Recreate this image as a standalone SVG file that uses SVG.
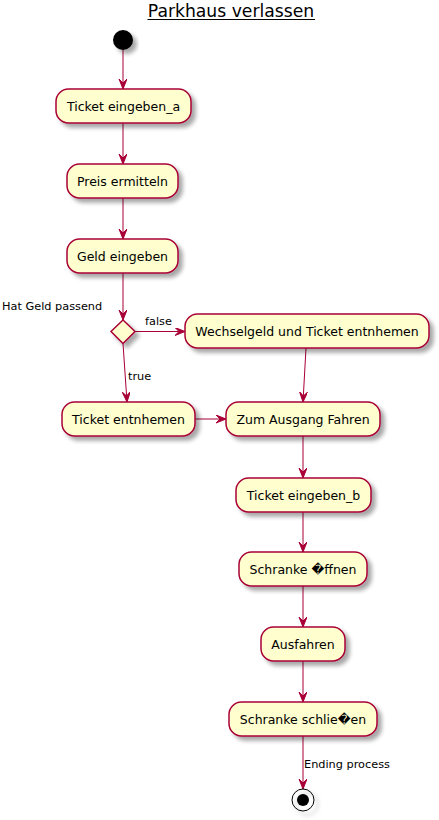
<svg xmlns="http://www.w3.org/2000/svg" width="439" height="820" viewBox="0 0 439 820">
<style>
.act{fill:#FEFECE;stroke:#A80036;stroke-width:1.5;filter:url(#sh)}
.t{font-family:"DejaVu Sans",sans-serif;font-size:12.5px;fill:#000;text-anchor:middle}
.l{font-family:"DejaVu Sans",sans-serif;font-size:11.3px;fill:#000}
.c{stroke:#A80036;stroke-width:1;fill:none;marker-end:url(#ah)}
</style>
<defs>
<filter id="sh" x="-20%" y="-20%" width="150%" height="160%">
<feGaussianBlur in="SourceAlpha" stdDeviation="2"/>
<feOffset dx="4" dy="4" result="b"/>
<feComponentTransfer><feFuncA type="linear" slope="0.35"/></feComponentTransfer>
<feMerge><feMergeNode/><feMergeNode in="SourceGraphic"/></feMerge>
</filter>
<marker id="ah" markerUnits="userSpaceOnUse" markerWidth="12" markerHeight="10" refX="10" refY="4" orient="auto">
<path d="M0,0 L10,4 L0,8 L4,4 Z" fill="#A80036" stroke="#A80036" stroke-width="1"/>
</marker>
</defs>
<rect width="439" height="820" fill="#fff"/>
<g id="title">
<text x="231" y="17" font-family="DejaVu Sans, sans-serif" font-size="17.2" text-anchor="middle">Parkhaus verlassen</text>
<line x1="147.5" y1="19.5" x2="315" y2="19.5" stroke="#000" stroke-width="1"/>
</g>
<g id="connectors">
<line class="c" x1="123" y1="50" x2="123" y2="89"/>
<line class="c" x1="123" y1="123" x2="123" y2="164"/>
<line class="c" x1="123" y1="198" x2="123" y2="239"/>
<line class="c" x1="123" y1="273" x2="123" y2="320"/>
<line class="c" x1="135" y1="331.5" x2="185" y2="331.5"/>
<text class="l" x="145" y="325">false</text>
<line class="c" x1="123" y1="343.5" x2="127" y2="402"/>
<text class="l" x="128" y="380">true</text>
<line class="c" x1="306" y1="348" x2="303" y2="402"/>
<line class="c" x1="195" y1="419" x2="226" y2="419"/>
<line class="c" x1="303" y1="436" x2="303" y2="478"/>
<line class="c" x1="303" y1="512" x2="303" y2="552"/>
<line class="c" x1="303" y1="586" x2="303" y2="627"/>
<line class="c" x1="303" y1="661" x2="303" y2="702"/>
<line class="c" x1="303" y1="736" x2="303" y2="789"/>
<text class="l" x="304" y="768">Ending process</text>
</g>
<g id="start"><circle cx="123" cy="40" r="10" fill="#000" filter="url(#sh)"/></g>
<g id="ticket_a"><rect class="act" x="56" y="89" width="135" height="34" rx="12.5"/><text class="t" x="123.5" y="110.5">Ticket eingeben_a</text></g>
<g id="preis"><rect class="act" x="67" y="164" width="111" height="34" rx="12.5"/><text class="t" x="122.5" y="185.5">Preis ermitteln</text></g>
<g id="geld"><rect class="act" x="67" y="239" width="111" height="34" rx="12.5"/><text class="t" x="122.5" y="260.5">Geld eingeben</text></g>
<g id="decision"><polygon class="act" points="123,320 135,331.5 123,343.5 111,331.5"/><text class="l" x="2" y="310">Hat Geld passend</text></g>
<g id="wechsel"><rect class="act" x="185" y="314" width="244" height="34" rx="12.5"/><text class="t" x="307" y="335.5">Wechselgeld und Ticket entnhemen</text></g>
<g id="ticket_ent"><rect class="act" x="62" y="402" width="133" height="34" rx="12.5"/><text class="t" x="128.5" y="423.5">Ticket entnhemen</text></g>
<g id="ausgang"><rect class="act" x="226" y="402" width="154" height="34" rx="12.5"/><text class="t" x="303" y="423.5">Zum Ausgang Fahren</text></g>
<g id="ticket_b"><rect class="act" x="236" y="478" width="135" height="34" rx="12.5"/><text class="t" x="303.5" y="499.5">Ticket eingeben_b</text></g>
<g id="oeffnen"><rect class="act" x="239" y="552" width="128" height="34" rx="12.5"/><text class="t" x="303" y="573.5">Schranke &#xFFFD;ffnen</text></g>
<g id="ausfahren"><rect class="act" x="261" y="627" width="84" height="34" rx="12.5"/><text class="t" x="303" y="648.5">Ausfahren</text></g>
<g id="schliessen"><rect class="act" x="229" y="702" width="148" height="34" rx="12.5"/><text class="t" x="303" y="723.5">Schranke schlie&#xFFFD;en</text></g>
<g id="end"><circle cx="303" cy="800" r="11" fill="none" stroke="#000" stroke-width="1" filter="url(#sh)"/><circle cx="303" cy="800" r="6" fill="#000"/></g>
</svg>
